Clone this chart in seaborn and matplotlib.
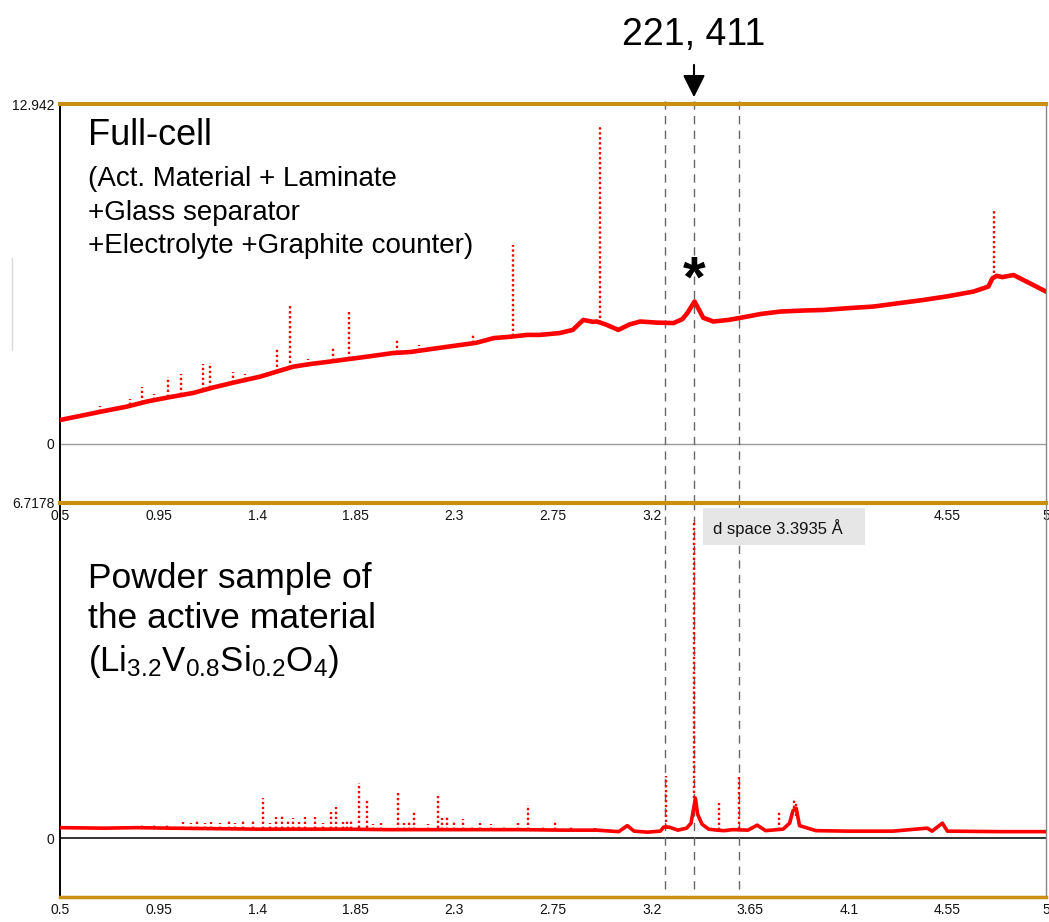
import seaborn as sns
import pandas as pd
from matplotlib import pyplot as plt
from matplotlib.patches import Rectangle
from matplotlib.lines import Line2D

# d-spacing (Angstrom) ticks shared by both panels
x_ticks = [0.5, 0.95, 1.4, 1.85, 2.3, 2.75, 3.2, 3.65, 4.1, 4.55, 5]
x_tick_labels = ["0.5", "0.95", "1.4", "1.85", "2.3", "2.75", "3.2", "3.65", "4.1", "4.55", "5"]
# top panel: 3.65 and 4.1 sit under the cursor readout box
x_tick_labels_top = ["0.5", "0.95", "1.4", "1.85", "2.3", "2.75", "3.2", "", "", "4.55", "5"]

# marked reflections (dashed lines)
marker_d = [3.262, 3.3935, 3.598]

# full cell: broad background curve
cell_x = [0.50, 0.60, 0.70, 0.805, 0.90, 1.00, 1.108, 1.20, 1.30, 1.413, 1.50, 1.564,
          1.65, 1.70, 1.79, 1.90, 2.02, 2.10, 2.20, 2.33, 2.40, 2.48, 2.555, 2.632,
          2.69, 2.78, 2.84, 2.888, 2.93, 2.95, 2.99, 3.048, 3.10, 3.148, 3.22, 3.30,
          3.34, 3.363, 3.396, 3.42, 3.436, 3.482, 3.55, 3.605, 3.70, 3.788, 3.90,
          3.985, 4.10, 4.213, 4.33, 4.44, 4.55, 4.669, 4.737, 4.755, 4.775, 4.80,
          4.852, 4.93, 5.00]
cell_y = [0.91, 1.08, 1.25, 1.42, 1.62, 1.78, 1.94, 2.15, 2.35, 2.56, 2.78, 2.94,
          3.05, 3.10, 3.20, 3.32, 3.46, 3.50, 3.62, 3.77, 3.85, 4.03, 4.08, 4.15,
          4.15, 4.22, 4.34, 4.72, 4.65, 4.66, 4.55, 4.34, 4.55, 4.66, 4.62, 4.60,
          4.75, 4.98, 5.42, 5.05, 4.80, 4.66, 4.72, 4.80, 4.95, 5.04, 5.08,
          5.10, 5.17, 5.23, 5.36, 5.48, 5.62, 5.80, 5.99, 6.30, 6.40, 6.35,
          6.43, 6.10, 5.80]

# full cell: sharp reflections (position, foot, top)
cell_peak_x = [0.683, 0.82, 0.873, 0.93, 0.995, 1.051, 1.152, 1.185, 1.289, 1.345,
               1.489, 1.55, 1.63, 1.748, 1.821, 2.04, 2.14, 2.387, 2.567, 2.70,
               2.966, 4.762]
cell_peak_base = [1.20, 1.47, 1.57, 1.66, 1.77, 1.87, 2.06, 2.12, 2.33, 2.42,
                  2.73, 2.90, 3.02, 3.14, 3.22, 3.47, 3.54, 3.83, 4.09, 4.16,
                  4.62, 6.30]
cell_peak_top = [1.45, 1.70, 2.18, 1.90, 2.56, 2.66, 3.04, 3.07, 2.75, 2.65,
                 3.60, 5.25, 3.25, 3.64, 5.04, 3.96, 3.75, 4.19, 7.57, 4.35,
                 12.08, 8.91]

# powder: background curve
powder_x = [0.50, 0.70, 0.85, 1.00, 1.20, 1.40, 1.60, 1.80, 2.00, 2.20, 2.40, 2.60,
            2.80, 2.95, 3.05, 3.089, 3.12, 3.18, 3.24, 3.255, 3.28, 3.32, 3.36,
            3.38, 3.39, 3.40, 3.41, 3.43, 3.46, 3.50, 3.53, 3.57, 3.64, 3.682,
            3.72, 3.80, 3.83, 3.845, 3.86, 3.875, 3.95, 4.10, 4.30, 4.458, 4.48,
            4.527, 4.55, 4.80, 5.00]
powder_y = [0.21, 0.20, 0.21, 0.20, 0.19, 0.18, 0.18, 0.18, 0.17, 0.17, 0.17, 0.17,
            0.16, 0.16, 0.13, 0.25, 0.14, 0.12, 0.14, 0.22, 0.22, 0.16, 0.20,
            0.30, 0.55, 0.80, 0.48, 0.28, 0.18, 0.16, 0.15, 0.17, 0.16, 0.26,
            0.15, 0.18, 0.30, 0.55, 0.60, 0.25, 0.15, 0.14, 0.14, 0.20, 0.14,
            0.30, 0.14, 0.13, 0.13]

# powder: sharp reflections (position, foot, top)
powder_peak_x = [0.873, 0.931, 0.988, 1.06, 1.10, 1.126, 1.16, 1.19, 1.23, 1.27,
                 1.30, 1.333, 1.382, 1.428, 1.46, 1.485, 1.514, 1.54, 1.563, 1.59,
                 1.62, 1.663, 1.70, 1.735, 1.758, 1.79, 1.81, 1.827, 1.864, 1.899,
                 1.93, 1.965, 2.042, 2.07, 2.095, 2.117, 2.18, 2.223, 2.245, 2.266,
                 2.30, 2.338, 2.38, 2.418, 2.467, 2.528, 2.59, 2.634, 2.706, 2.76,
                 2.832, 2.94, 3.266, 3.395, 3.507, 3.599, 3.783, 3.852, 3.86]
powder_peak_base = [0.20, 0.20, 0.20, 0.19, 0.19, 0.19, 0.19, 0.19, 0.19, 0.18,
                    0.18, 0.18, 0.18, 0.18, 0.18, 0.18, 0.18, 0.18, 0.18, 0.18,
                    0.18, 0.18, 0.18, 0.18, 0.18, 0.18, 0.18, 0.18, 0.20, 0.20,
                    0.17, 0.17, 0.17, 0.17, 0.17, 0.17, 0.17, 0.20, 0.17, 0.17,
                    0.17, 0.17, 0.17, 0.17, 0.17, 0.17, 0.17, 0.17, 0.16, 0.16,
                    0.16, 0.16, 0.22, 0.80, 0.16, 0.18, 0.16, 0.60, 0.45]
powder_peak_top = [0.27, 0.28, 0.30, 0.33, 0.31, 0.35, 0.30, 0.33, 0.30, 0.36,
                   0.31, 0.37, 0.36, 0.81, 0.30, 0.42, 0.46, 0.34, 0.40, 0.33,
                   0.43, 0.42, 0.30, 0.53, 0.62, 0.33, 0.36, 0.37, 1.11, 0.78,
                   0.28, 0.30, 0.95, 0.30, 0.32, 0.53, 0.28, 0.84, 0.40, 0.43,
                   0.37, 0.38, 0.25, 0.31, 0.28, 0.27, 0.31, 0.66, 0.24, 0.36,
                   0.22, 0.21, 1.25, 6.37, 0.70, 1.22, 0.55, 0.80, 0.75]

TOP_YMAX = 12.942
TOP_YMIN = -2.25
BOT_YMAX = 6.7178
BOT_YMIN = -1.18

GOLD = "#c8900e"
RED = "#ff0000"


def style_panel(ax, labels):
    ax.set_xlim(0.5, 5)
    ax.set_xticks(x_ticks)
    ax.set_xticklabels(labels)
    ax.tick_params(axis="both", length=0, labelsize=10, pad=4, colors="#111111")
    ax.set_xlabel("")
    ax.set_ylabel("")
    ax.grid(False)
    ax.spines["left"].set_color("black")
    ax.spines["left"].set_linewidth(1.4)
    ax.spines["right"].set_color("#888888")
    ax.spines["right"].set_linewidth(1.0)


def draw_trace(ax, x, y, peak_x, peak_base, peak_top, lw):
    df = pd.DataFrame({"d": x, "I": y})
    sns.lineplot(data=df, x="d", y="I", color=RED, lw=lw, estimator=None, ax=ax, zorder=3)
    ax.vlines(peak_x, peak_base, peak_top, colors=RED, lw=1.7,
              linestyles=(0, (1, 1.1)), zorder=3)


def main():
    sns.set_style("white")
    plt.rcParams["font.family"] = ["Liberation Sans", "DejaVu Sans"]
    plt.rcParams["mathtext.default"] = "regular"
    plt.rcParams["text.color"] = "black"

    fig = plt.figure(figsize=(10.49, 9.22), dpi=100)
    ax_top = fig.add_axes([60 / 1049, 1 - 503 / 922, 986 / 1049, 399 / 922])
    ax_bot = fig.add_axes([60 / 1049, 1 - 897 / 922, 986 / 1049, 394 / 922])
    ax_bot.patch.set_visible(False)

    # Figure top: full cell
    draw_trace(ax_top, cell_x, cell_y, cell_peak_x, cell_peak_base, cell_peak_top, 3.3)
    style_panel(ax_top, x_tick_labels_top)
    ax_top.set_ylim(TOP_YMIN, TOP_YMAX)
    ax_top.set_yticks([0, TOP_YMAX])
    ax_top.set_yticklabels(["0", "12.942"])
    ax_top.axhline(0, color="#9a9a9a", lw=1.0, zorder=1)
    ax_top.spines["top"].set_color(GOLD)
    ax_top.spines["top"].set_linewidth(3)
    ax_top.spines["bottom"].set_color("#555555")
    ax_top.spines["bottom"].set_linewidth(1.5)

    # Figure bottom: powder
    draw_trace(ax_bot, powder_x, powder_y, powder_peak_x, powder_peak_base, powder_peak_top, 2.6)
    style_panel(ax_bot, x_tick_labels)
    ax_bot.set_ylim(BOT_YMIN, BOT_YMAX)
    ax_bot.set_yticks([0, BOT_YMAX])
    ax_bot.set_yticklabels(["0", "6.7178"])
    ax_bot.axhline(0, color="#333333", lw=1.4, zorder=1)
    ax_bot.spines["top"].set_color(GOLD)
    ax_bot.spines["top"].set_linewidth(3)
    ax_bot.spines["bottom"].set_color(GOLD)
    ax_bot.spines["bottom"].set_linewidth(2.5)

    for d in marker_d:
        ax_top.axvline(d, ymin=0, ymax=1.015, color="#666666", lw=1.0,
                       dashes=(6, 4.5), clip_on=False, zorder=2)
        ax_bot.axvline(d, ymin=0.02, ymax=1, color="#666666", lw=1.0,
                       dashes=(6, 4.5), zorder=2)

    # annotations
    ax_top.annotate("", xy=(3.3935, 1.01), xycoords=("data", "axes fraction"),
                    xytext=(3.3935, 1.105), textcoords=("data", "axes fraction"),
                    arrowprops=dict(arrowstyle="-|>", color="black", lw=1.5,
                                    mutation_scale=34))
    ax_top.text(3.3935, 1.172, "221, 411", transform=ax_top.get_xaxis_transform(),
                ha="center", va="center", fontsize=27)
    ax_top.text(3.3935, 6.2, "*", ha="center", va="center", fontsize=42,
                fontweight="bold")

    ax_top.text(0.0284, 0.92, "Full-cell", transform=ax_top.transAxes,
                ha="left", va="center", fontsize=26)
    ax_top.text(0.0284, 0.812, "(Act. Material + Laminate", transform=ax_top.transAxes,
                ha="left", va="center", fontsize=20)
    ax_top.text(0.0284, 0.727, "+Glass separator", transform=ax_top.transAxes,
                ha="left", va="center", fontsize=20)
    ax_top.text(0.0284, 0.644, "+Electrolyte +Graphite counter)", transform=ax_top.transAxes,
                ha="left", va="center", fontsize=20)

    ax_bot.text(0.0284, 0.808, "Powder sample of", transform=ax_bot.transAxes,
                ha="left", va="center", fontsize=25.5)
    ax_bot.text(0.0284, 0.707, "the active material", transform=ax_bot.transAxes,
                ha="left", va="center", fontsize=25.5)
    ax_bot.text(0.0284, 0.598, r"(Li$_{3.2}$V$_{0.8}$Si$_{0.2}$O$_{4}$)",
                transform=ax_bot.transAxes, ha="left", va="center", fontsize=25)

    # cursor readout box
    fig.patches.append(Rectangle((703 / 1049, 1 - 545 / 922), 162 / 1049, 37 / 922,
                                 transform=fig.transFigure, facecolor="#e6e6e6",
                                 edgecolor="none", zorder=5))
    fig.text(713 / 1049, 1 - 528 / 922, "d space 3.3935 \u00c5", ha="left", va="center",
             fontsize=12, color="#111111", zorder=6)

    # faint scroll marker at far left
    fig.lines.append(Line2D([12 / 1049, 12 / 1049], [1 - 258 / 922, 1 - 350 / 922],
                            transform=fig.transFigure, color="#d8d8d8", lw=1))

    plt.savefig("out.png", dpi=100)


if __name__ == "__main__":
    main()
